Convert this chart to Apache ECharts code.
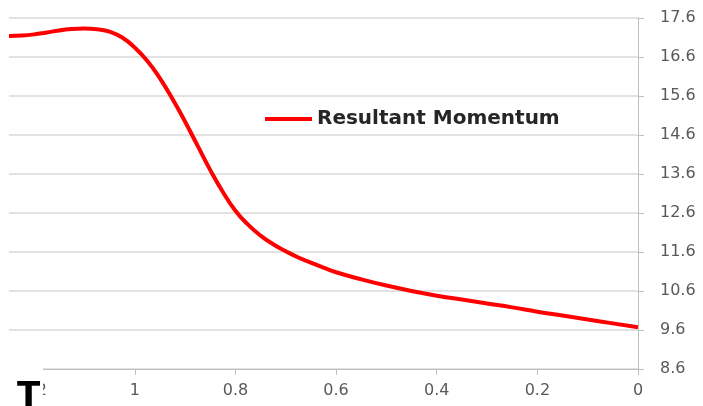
<!DOCTYPE html>
<html>
<head>
<meta charset="utf-8">
<script src="https://cdn.jsdelivr.net/npm/echarts@6/dist/echarts.min.js"></script>
<style>html,body{margin:0;padding:0;background:#fff}#c{width:703px;height:406px}</style>
</head>
<body>
<div id="c"></div>
<script>
const seriesName = 'Resultant Momentum';
const xValues = [1.25, 1.225, 1.2, 1.175, 1.15, 1.125, 1.1, 1.075, 1.05, 1.025, 1.0, 0.975, 0.95, 0.925, 0.9, 0.875, 0.85, 0.825, 0.8, 0.775, 0.75, 0.725, 0.7, 0.675, 0.65, 0.625, 0.6, 0.55, 0.5, 0.45, 0.4, 0.35, 0.3, 0.25, 0.2, 0.15, 0.1, 0.05, 0.0];
const momentum = [17.14, 17.15, 17.18, 17.23, 17.28, 17.32, 17.33, 17.31, 17.25, 17.1, 16.84, 16.5, 16.05, 15.52, 14.94, 14.32, 13.7, 13.14, 12.66, 12.3, 12.02, 11.8, 11.62, 11.46, 11.33, 11.2, 11.08, 10.9, 10.74, 10.6, 10.48, 10.38, 10.28, 10.18, 10.07, 9.97, 9.87, 9.77, 9.67];
const xTicks = [0, 0.2, 0.4, 0.6, 0.8, 1, 1.2];
const yTicks = [8.6, 9.6, 10.6, 11.6, 12.6, 13.6, 14.6, 15.6, 16.6, 17.6];

const chart = echarts.init(document.getElementById('c'), null, {renderer: 'canvas'});
const labelFont = 'DejaVu Sans';
chart.setOption({
  animation: false,
  backgroundColor: '#ffffff',
  grid: {left: 9, right: 65, top: 18, bottom: 37, containLabel: false},
  legend: {
    show: true,
    left: 260, top: 104,
    icon: 'rect', itemWidth: 47, itemHeight: 4,
    textStyle: {fontFamily: labelFont, fontWeight: 'bold', fontSize: 20, color: '#262626'},
    data: [seriesName]
  },
  xAxis: {
    type: 'value', inverse: true, min: 0, max: 1.25,
    axisLine: {show: true, lineStyle: {color: '#bfbfbf', width: 1}},
    axisTick: {show: true, length: 6, customValues: xTicks, lineStyle: {color: '#bfbfbf'}},
    axisLabel: {customValues: xTicks, margin: 14, fontFamily: labelFont, fontSize: 16, color: '#595959',
      formatter: v => String(v)},
    splitLine: {show: false}
  },
  yAxis: {
    type: 'value', position: 'right', min: 8.6, max: 17.6,
    axisLine: {show: true, lineStyle: {color: '#bfbfbf', width: 1}},
    axisTick: {show: true, length: 6, customValues: yTicks, lineStyle: {color: '#bfbfbf'}},
    axisLabel: {customValues: yTicks, margin: 22, fontFamily: labelFont, fontSize: 16, color: '#595959',
      formatter: v => v.toFixed(1)},
    splitLine: {show: true, lineStyle: {color: '#d9d9d9', width: 1.5}}
  },
  series: [{
    name: seriesName, type: 'line', smooth: 0.5, symbol: 'none',
    lineStyle: {color: '#ff0000', width: 4},
    itemStyle: {color: '#ff0000'},
    data: xValues.map((x, i) => [x, momentum[i]])
  }],
  graphic: [
    {type: 'rect', left: 0, top: 364, shape: {width: 43, height: 42}, style: {fill: '#ffffff'}, z: 100},
    {type: 'text', left: 17, top: 380, style: {text: 'T', fontFamily: labelFont, fontWeight: 'bold', fontSize: 34, fill: '#000000'}, z: 101}
  ]
});
</script>
</body>
</html>
